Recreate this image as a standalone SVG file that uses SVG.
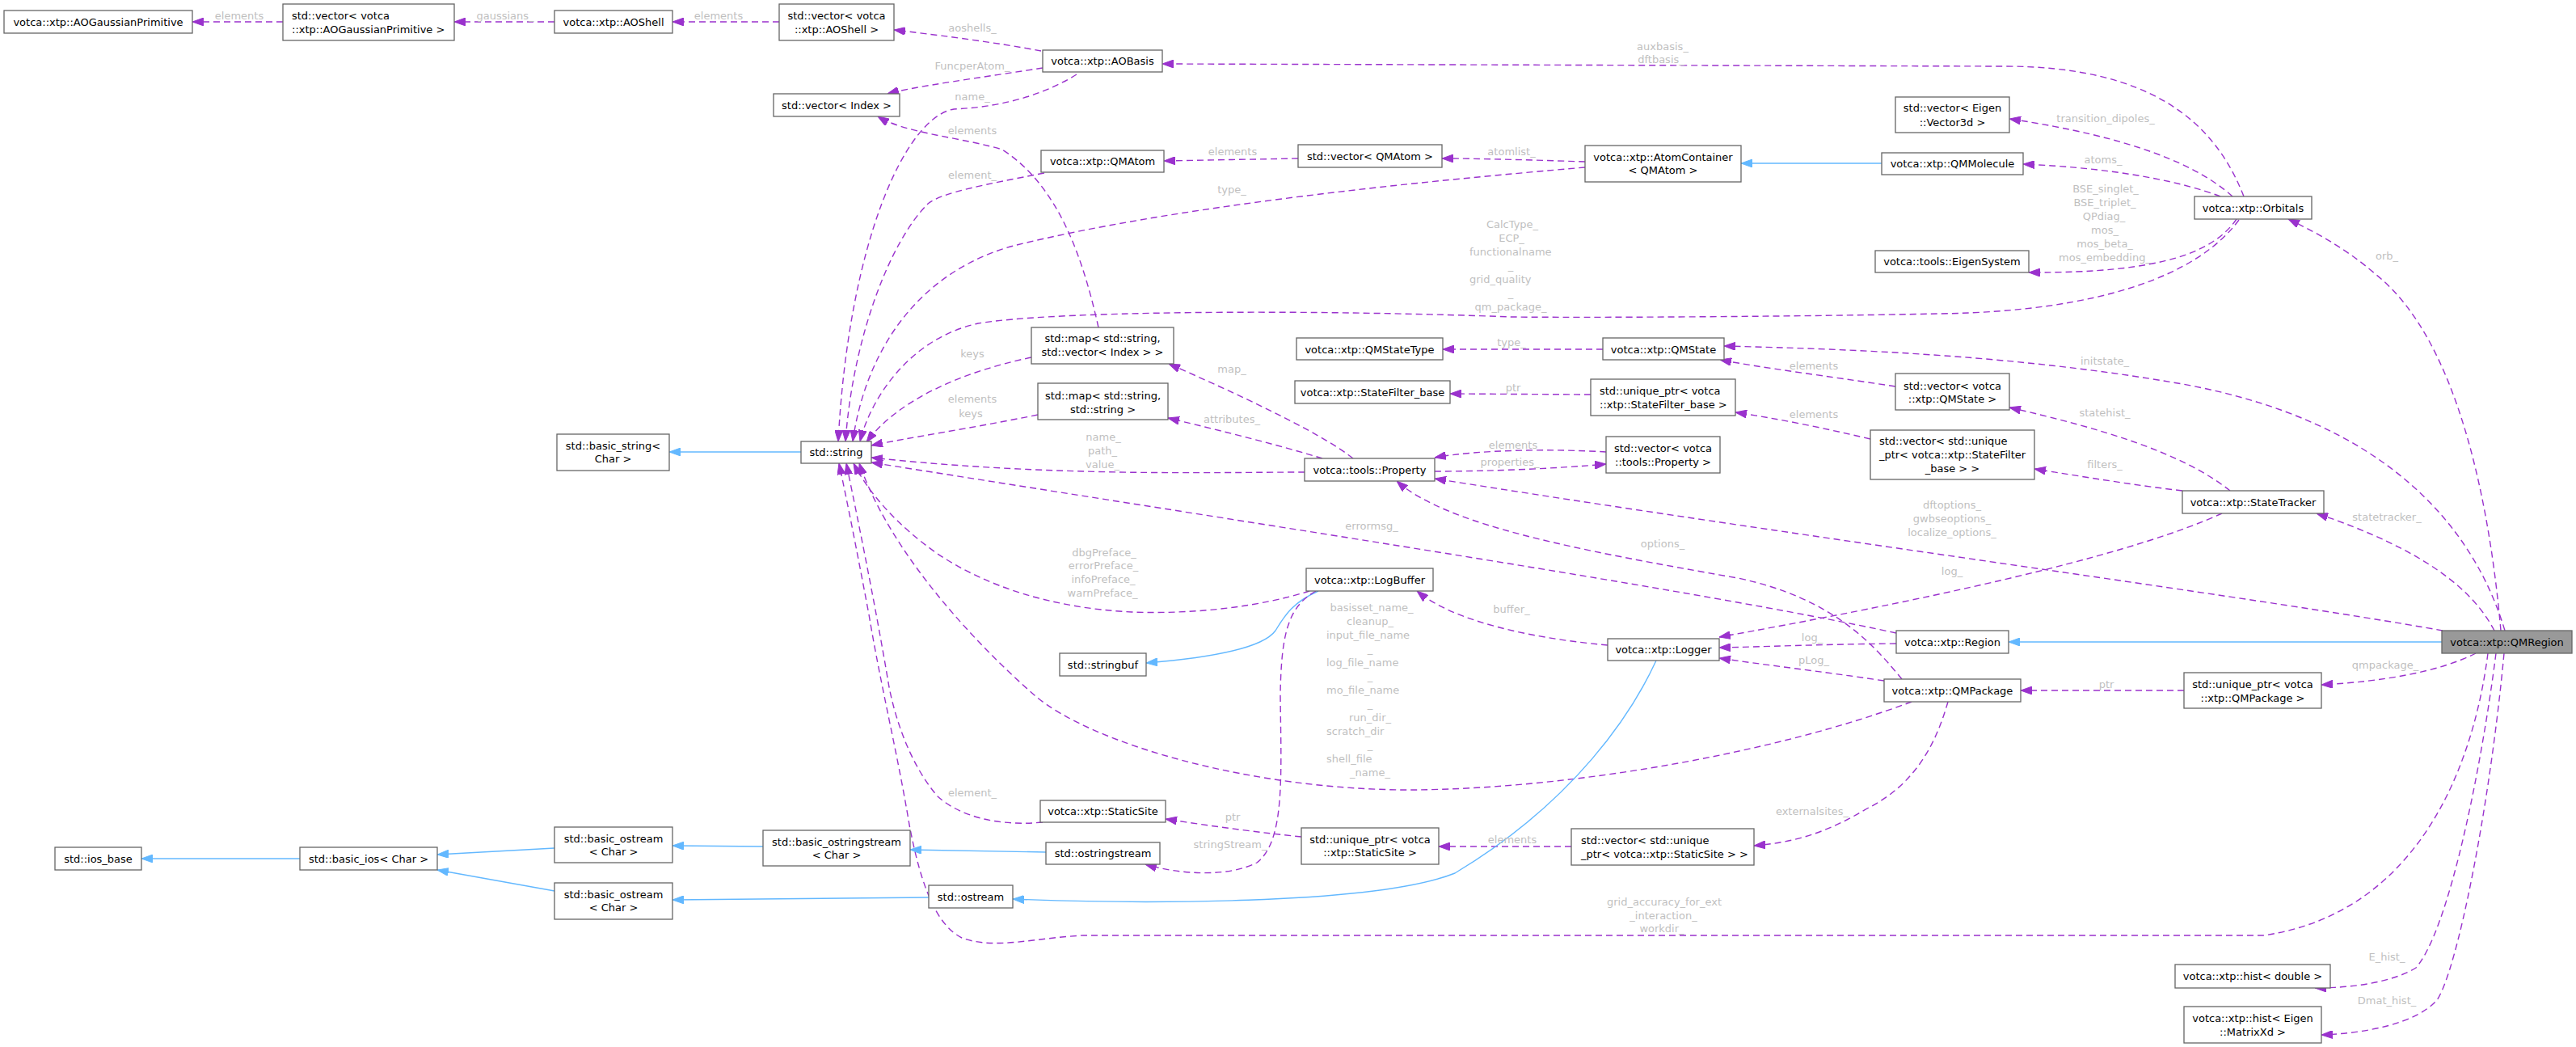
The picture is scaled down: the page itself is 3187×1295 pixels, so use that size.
<svg xmlns="http://www.w3.org/2000/svg" width="3187" height="1295" viewBox="0 0 3187 1295">
<style>
.n rect{fill:#fff;stroke:#666;stroke-width:1.3}
.n text{font-family:"DejaVu Sans",sans-serif;font-size:13px;fill:#000;text-anchor:middle}
.n text.s{text-anchor:start}
#n_qmregion rect{fill:#999}
.e{fill:none;stroke:#9a32cd;stroke-width:1.4;stroke-dasharray:8,5;marker-end:url(#ap)}
.i{fill:none;stroke:#63b8ff;stroke-width:1.4;marker-end:url(#ab)}
.l{font-family:"DejaVu Sans",sans-serif;font-size:13px;fill:#bfbfbf;text-anchor:middle}
.l.s{text-anchor:start}
</style>
<defs>
<marker id="ap" viewBox="0 0 14 10" refX="14" refY="5" markerWidth="14" markerHeight="10" markerUnits="userSpaceOnUse" orient="auto"><path d="M0,0 L14,5 L0,10 z" fill="#9a32cd" stroke="#9a32cd"/></marker>
<marker id="ab" viewBox="0 0 14 10" refX="14" refY="5" markerWidth="14" markerHeight="10" markerUnits="userSpaceOnUse" orient="auto"><path d="M0,0 L14,5 L0,10 z" fill="#63b8ff" stroke="#63b8ff"/></marker>
</defs>
<rect width="3187" height="1295" fill="#fff"/>
<g id="edges">
<path class="e" d="M350,27 L238,27"/>
<path class="e" d="M686,27 L562,27"/>
<path class="e" d="M964,27 L832,27"/>
<path class="e" d="M1288,63 C1230,52 1150,42 1106,37"/>
<path class="e" d="M1290,84 C1220,95 1130,107 1098,116"/>
<path class="e" d="M1332,92 C1300,112 1250,132 1180,135 C1120,145 1050,300 1037,546"/>
<path class="e" d="M1359,405 C1340,320 1310,230 1240,185 C1190,170 1120,165 1086,144"/>
<path class="e" d="M1606,196 L1440,199"/>
<path class="e" d="M1292,214 C1220,228 1165,238 1148,252 C1100,300 1055,420 1046,546"/>
<path class="e" d="M1961,207 C1750,225 1450,255 1250,305 C1130,340 1070,440 1055,546"/>
<path class="e" d="M2770,272 C2720,340 2600,385 2400,388 C2200,392 1950,393 1870,392 C1600,382 1300,385 1210,400 C1120,420 1075,500 1064,546"/>
<path class="e" d="M1276,442 C1190,460 1110,495 1072,547"/>
<path class="e" d="M1284,513 C1200,530 1120,542 1078,551"/>
<path class="e" d="M1674,567 C1640,540 1560,500 1446,450"/>
<path class="e" d="M1636,567 C1580,550 1520,535 1445,517"/>
<path class="e" d="M1775,583 C1840,583 1920,580 1987,574"/>
<path class="e" d="M1987,559 C1920,555 1830,556 1775,566"/>
<path class="e" d="M1614,584 C1500,584 1300,590 1078,566"/>
<path class="e" d="M2346,783 C2100,730 1600,655 1078,572"/>
<path class="e" d="M1620,731 C1560,750 1480,760 1400,757 C1300,752 1220,725 1160,685 C1110,650 1075,610 1056,573"/>
<path class="e" d="M2365,868 C2200,930 1950,975 1750,977 C1550,978 1350,920 1280,860 C1200,790 1100,680 1063,573"/>
<path class="e" d="M1290,1017 C1240,1022 1190,1012 1160,985 C1130,950 1110,900 1100,850 C1085,760 1065,660 1047,573"/>
<path class="e" d="M3078,808 C3060,950 2990,1130 2800,1157 L1340,1157 C1280,1160 1230,1175 1190,1160 C1160,1145 1140,1100 1125,1020 C1110,930 1090,850 1075,760 C1060,680 1048,620 1038,573"/>
<path class="i" d="M1631,731 C1600,745 1590,760 1578,780 C1560,805 1480,815 1418,820"/>
<path class="e" d="M1989,798 C1900,790 1800,770 1753,731"/>
<path class="e" d="M1628,731 C1595,750 1585,780 1584,860 C1585,960 1590,1040 1555,1067 C1520,1085 1460,1082 1417,1069"/>
<path class="e" d="M1610,1035 C1560,1030 1500,1022 1442,1013"/>
<path class="e" d="M1944,1047 L1780,1047"/>
<path class="e" d="M2410,868 C2395,920 2370,970 2310,1000 C2260,1030 2220,1042 2170,1046"/>
<path class="e" d="M2353,840 C2320,800 2270,740 2150,715 C1950,680 1790,650 1728,595"/>
<path class="e" d="M3022,780 C2800,740 2200,660 1775,592"/>
<path class="e" d="M2749,635 C2650,680 2450,730 2127,788"/>
<path class="e" d="M2346,796 C2250,797 2180,800 2127,801"/>
<path class="e" d="M2331,842 C2250,830 2180,822 2127,814"/>
<path class="i" d="M2049,817 C2020,880 1950,990 1800,1080 C1700,1120 1400,1118 1253,1112"/>
<path class="i" d="M1149,1110 L832,1113"/>
<path class="i" d="M944,1047 L832,1046"/>
<path class="i" d="M1294,1054 L1126,1051"/>
<path class="i" d="M686,1049 L541,1057"/>
<path class="i" d="M686,1102 L541,1076"/>
<path class="i" d="M371,1062 L175,1062"/>
<path class="i" d="M991,559 L828,559"/>
<path class="e" d="M1968,488 L1794,487"/>
<path class="e" d="M1983,432 L1785,432"/>
<path class="e" d="M2345,478 C2260,465 2180,455 2128,445"/>
<path class="e" d="M2314,543 C2250,528 2200,518 2147,510"/>
<path class="e" d="M2759,607 C2700,560 2600,530 2486,504"/>
<path class="e" d="M2700,607 C2640,600 2580,590 2517,580"/>
<path class="e" d="M3086,780 C3060,730 3000,680 2866,635"/>
<path class="e" d="M3099,780 C3060,650 2950,520 2700,475 C2500,440 2300,432 2133,428"/>
<path class="e" d="M3094,780 C3080,620 3040,420 2940,340 C2900,305 2860,285 2831,271"/>
<path class="e" d="M3063,808 C3020,830 2950,843 2872,847"/>
<path class="e" d="M2702,854 L2500,854"/>
<path class="i" d="M3021,794 L2485,794"/>
<path class="e" d="M3088,808 C3070,950 3030,1150 2989,1197 C2960,1215 2910,1222 2864,1222"/>
<path class="e" d="M3098,808 C3080,1000 3040,1200 3015,1237 C2990,1265 2930,1278 2872,1280"/>
<path class="i" d="M2328,202 L2154,202"/>
<path class="e" d="M1961,200 C1900,198 1830,196 1784,196"/>
<path class="e" d="M2747,243 C2700,225 2620,208 2503,203"/>
<path class="e" d="M2762,243 C2720,205 2640,170 2486,147"/>
<path class="e" d="M2767,271 C2740,310 2680,338 2510,337"/>
<path class="e" d="M2776,243 C2740,150 2660,82 2480,82 L1438,79"/>
</g>
<g id="labels">
<text class="l" x="296" y="23.5">elements</text>
<text class="l" x="625" y="23.5">gaussians_</text>
<text class="l" x="889" y="23.5">elements</text>
<text class="l" x="1203" y="38.5">aoshells_</text>
<text class="l" x="1203" y="85.5">FuncperAtom_</text>
<text class="l" x="1203" y="123.5">name_</text>
<text class="l" x="1203" y="165.5">elements</text>
<text class="l" x="1525" y="191.5">elements</text>
<text class="l" x="1203" y="220.5">element_</text>
<text class="l" x="1524" y="238.5">type_</text>
<text class="l" x="2057" y="61.5">auxbasis_</text>
<text class="l" x="2055" y="77.5">dftbasis_</text>
<text class="l" x="1870" y="191.5">atomlist_</text>
<text class="l" x="2605" y="150.5">transition_dipoles_</text>
<text class="l" x="2602" y="201.5">atoms_</text>
<text class="l" x="2605" y="237.5">BSE_singlet_</text>
<text class="l" x="2604" y="254.5">BSE_triplet_</text>
<text class="l" x="2603" y="271.5">QPdiag_</text>
<text class="l" x="2604" y="288.5">mos_</text>
<text class="l" x="2604" y="305.5">mos_beta_</text>
<text class="l" x="2604" y="322.5">mos_embedding_</text>
<text class="l" x="1871" y="281.5">CalcType_</text>
<text class="l" x="1870" y="298.5">ECP_</text>
<text class="l s" x="1818" y="315.5">functionalname</text>
<text class="l" x="1869" y="332.5">_</text>
<text class="l s" x="1818" y="349.5">grid_quality</text>
<text class="l" x="1869" y="366.5">_</text>
<text class="l" x="1869" y="383.5">qm_package_</text>
<text class="l" x="2953" y="320.5">orb_</text>
<text class="l" x="1203" y="441.5">keys</text>
<text class="l" x="1203" y="497.5">elements</text>
<text class="l" x="1201" y="515.5">keys</text>
<text class="l" x="1524" y="460.5">map_</text>
<text class="l" x="1524" y="522.5">attributes_</text>
<text class="l" x="1365" y="544.5">name_</text>
<text class="l" x="1364" y="561.5">path_</text>
<text class="l" x="1364" y="578.5">value_</text>
<text class="l" x="1870" y="427.5">type_</text>
<text class="l" x="2604" y="450.5">initstate_</text>
<text class="l" x="2244" y="456.5">elements</text>
<text class="l" x="1872" y="483.5">ptr</text>
<text class="l" x="2244" y="516.5">elements</text>
<text class="l" x="2604" y="514.5">statehist_</text>
<text class="l" x="2604" y="578.5">filters_</text>
<text class="l" x="1872" y="554.5">elements</text>
<text class="l" x="1868" y="575.5">properties_</text>
<text class="l" x="2415" y="628.5">dftoptions_</text>
<text class="l" x="2415" y="645.5">gwbseoptions_</text>
<text class="l" x="2415" y="662.5">localize_options_</text>
<text class="l" x="2953" y="643.5">statetracker_</text>
<text class="l" x="1697" y="654.5">errormsg_</text>
<text class="l" x="2057" y="676.5">options_</text>
<text class="l" x="1366" y="687.5">dbgPreface_</text>
<text class="l" x="1365" y="704">errorPreface_</text>
<text class="l" x="1365" y="720.5">infoPreface_</text>
<text class="l" x="1364" y="737.5">warnPreface_</text>
<text class="l" x="2415" y="710.5">log_</text>
<text class="l" x="1697" y="755.5">basisset_name_</text>
<text class="l" x="1695" y="772.5">cleanup_</text>
<text class="l s" x="1641" y="789.5">input_file_name</text>
<text class="l" x="1695" y="806.5">_</text>
<text class="l s" x="1641" y="823.5">log_file_name</text>
<text class="l" x="1695" y="840.5">_</text>
<text class="l s" x="1641" y="857.5">mo_file_name</text>
<text class="l" x="1695" y="874.5">_</text>
<text class="l" x="1695" y="891.5">run_dir_</text>
<text class="l s" x="1641" y="908.5">scratch_dir</text>
<text class="l" x="1695" y="925.5">_</text>
<text class="l s" x="1641" y="942.5">shell_file</text>
<text class="l" x="1695" y="959.5">_name_</text>
<text class="l" x="1870" y="757.5">buffer_</text>
<text class="l" x="2242" y="792.5">log_</text>
<text class="l" x="2244" y="820.5">pLog_</text>
<text class="l" x="2951" y="826.5">qmpackage_</text>
<text class="l" x="2606" y="850.5">ptr</text>
<text class="l" x="1203" y="984.5">element_</text>
<text class="l" x="2242" y="1007.5">externalsites_</text>
<text class="l" x="1525" y="1014.5">ptr</text>
<text class="l" x="1871" y="1042.5">elements</text>
<text class="l" x="1522" y="1048.5">stringStream_</text>
<text class="l" x="2059" y="1119.5">grid_accuracy_for_ext</text>
<text class="l" x="2058" y="1136.5">_interaction_</text>
<text class="l" x="2056" y="1152.5">workdir_</text>
<text class="l" x="2953" y="1187.5">E_hist_</text>
<text class="l" x="2953" y="1241.5">Dmat_hist_</text>
</g>
<g id="n_aogp" class="n"><rect x="5" y="13" width="233" height="28"/><text x="121.5" y="31.5">votca::xtp::AOGaussianPrimitive</text></g>
<g id="n_vec_aogp" class="n"><rect x="350" y="5" width="212" height="45"/><text class="s" x="361" y="23.5">std::vector&lt; votca</text><text class="s" x="361" y="40.5">::xtp::AOGaussianPrimitive &gt;</text></g>
<g id="n_aoshell" class="n"><rect x="686" y="13" width="146" height="28"/><text x="759" y="31.5">votca::xtp::AOShell</text></g>
<g id="n_vec_aoshell" class="n"><rect x="964" y="5" width="142" height="45"/><text x="1035" y="23.5">std::vector&lt; votca</text><text x="1035" y="40.5">::xtp::AOShell &gt;</text></g>
<g id="n_aobasis" class="n"><rect x="1290" y="62" width="148" height="27"/><text x="1364" y="80">votca::xtp::AOBasis</text></g>
<g id="n_vec_index" class="n"><rect x="957" y="116" width="156" height="28"/><text x="1035" y="134.5">std::vector&lt; Index &gt;</text></g>
<g id="n_qmatom" class="n"><rect x="1288" y="186" width="152" height="27"/><text x="1364" y="204">votca::xtp::QMAtom</text></g>
<g id="n_vec_qmatom" class="n"><rect x="1606" y="179" width="178" height="28"/><text x="1695" y="197.5">std::vector&lt; QMAtom &gt;</text></g>
<g id="n_atomcontainer" class="n"><rect x="1961" y="180" width="193" height="45"/><text x="2057.5" y="198.5">votca::xtp::AtomContainer</text><text x="2057.5" y="215">&lt; QMAtom &gt;</text></g>
<g id="n_qmmolecule" class="n"><rect x="2328" y="189" width="175" height="27"/><text x="2415.5" y="207">votca::xtp::QMMolecule</text></g>
<g id="n_vec_vector3d" class="n"><rect x="2345" y="120" width="141" height="44"/><text x="2415.5" y="137.5">std::vector&lt; Eigen</text><text x="2415.5" y="155.5">::Vector3d &gt;</text></g>
<g id="n_orbitals" class="n"><rect x="2715" y="243" width="145" height="28"/><text x="2787.5" y="261.5">votca::xtp::Orbitals</text></g>
<g id="n_eigensystem" class="n"><rect x="2320" y="310" width="190" height="27"/><text x="2415" y="328">votca::tools::EigenSystem</text></g>
<g id="n_map_vec_index" class="n"><rect x="1276" y="405" width="176" height="45"/><text x="1364" y="422.5">std::map&lt; std::string,</text><text x="1364" y="439.5">std::vector&lt; Index &gt; &gt;</text></g>
<g id="n_string" class="n"><rect x="991" y="546" width="87" height="27"/><text x="1034.5" y="564">std::string</text></g>
<g id="n_basic_string" class="n"><rect x="689" y="537" width="139" height="45"/><text x="758.5" y="555.5">std::basic_string&lt;</text><text x="758.5" y="571.5">Char &gt;</text></g>
<g id="n_map_string" class="n"><rect x="1284" y="474" width="161" height="45"/><text x="1364.5" y="493.5">std::map&lt; std::string,</text><text x="1364.5" y="510.5">std::string &gt;</text></g>
<g id="n_qmstatetype" class="n"><rect x="1604" y="418" width="181" height="27"/><text x="1694.5" y="436.5">votca::xtp::QMStateType</text></g>
<g id="n_qmstate" class="n"><rect x="1983" y="418" width="150" height="27"/><text x="2058" y="436.5">votca::xtp::QMState</text></g>
<g id="n_vec_qmstate" class="n"><rect x="2345" y="462" width="141" height="45"/><text x="2415.5" y="481.5">std::vector&lt; votca</text><text x="2415.5" y="497.5">::xtp::QMState &gt;</text></g>
<g id="n_statefilter_base" class="n"><rect x="1602" y="471" width="192" height="28"/><text x="1698" y="489.5">votca::xtp::StateFilter_base</text></g>
<g id="n_uptr_statefilter" class="n"><rect x="1968" y="469" width="179" height="45"/><text class="s" x="1979" y="487.5">std::unique_ptr&lt; votca</text><text class="s" x="1979" y="504.5">::xtp::StateFilter_base &gt;</text></g>
<g id="n_vec_uptr_statefilter" class="n"><rect x="2314" y="532" width="203" height="61"/><text class="s" x="2325" y="549.5">std::vector&lt; std::unique</text><text x="2415.5" y="566.5">_ptr&lt; votca::xtp::StateFilter</text><text x="2415.5" y="583.5">_base &gt; &gt;</text></g>
<g id="n_vec_property" class="n"><rect x="1987" y="540" width="141" height="45"/><text x="2057.5" y="558.5">std::vector&lt; votca</text><text x="2057.5" y="575.5">::tools::Property &gt;</text></g>
<g id="n_property" class="n"><rect x="1614" y="567" width="161" height="28"/><text x="1694.5" y="585.5">votca::tools::Property</text></g>
<g id="n_statetracker" class="n"><rect x="2700" y="607" width="175" height="28"/><text x="2787.5" y="625.5">votca::xtp::StateTracker</text></g>
<g id="n_logbuffer" class="n"><rect x="1616" y="703" width="157" height="28"/><text x="1694.5" y="721.5">votca::xtp::LogBuffer</text></g>
<g id="n_stringbuf" class="n"><rect x="1311" y="808" width="107" height="28"/><text x="1364.5" y="826.5">std::stringbuf</text></g>
<g id="n_logger" class="n"><rect x="1989" y="790" width="138" height="27"/><text x="2058" y="808">votca::xtp::Logger</text></g>
<g id="n_region" class="n"><rect x="2346" y="780" width="139" height="28"/><text x="2415.5" y="798.5">votca::xtp::Region</text></g>
<g id="n_qmregion" class="n"><rect x="3021" y="780" width="161" height="28"/><text x="3101.5" y="798.5">votca::xtp::QMRegion</text></g>
<g id="n_qmpackage" class="n"><rect x="2331" y="840" width="169" height="28"/><text x="2415.5" y="858.5">votca::xtp::QMPackage</text></g>
<g id="n_uptr_qmpackage" class="n"><rect x="2702" y="832" width="170" height="44"/><text x="2787" y="850.5">std::unique_ptr&lt; votca</text><text x="2787" y="867.5">::xtp::QMPackage &gt;</text></g>
<g id="n_staticsite" class="n"><rect x="1287" y="990" width="155" height="27"/><text x="1364.5" y="1008">votca::xtp::StaticSite</text></g>
<g id="n_uptr_staticsite" class="n"><rect x="1610" y="1024" width="170" height="45"/><text x="1695" y="1042.5">std::unique_ptr&lt; votca</text><text x="1695" y="1058.5">::xtp::StaticSite &gt;</text></g>
<g id="n_vec_uptr_staticsite" class="n"><rect x="1944" y="1025" width="226" height="45"/><text class="s" x="1956" y="1043.5">std::vector&lt; std::unique</text><text class="s" x="1956" y="1060.5">_ptr&lt; votca::xtp::StaticSite &gt; &gt;</text></g>
<g id="n_ostringstream" class="n"><rect x="1294" y="1042" width="141" height="27"/><text x="1364.5" y="1060">std::ostringstream</text></g>
<g id="n_basic_ostringstream" class="n"><rect x="944" y="1027" width="182" height="44"/><text x="1035" y="1045.5">std::basic_ostringstream</text><text x="1035" y="1061.5">&lt; Char &gt;</text></g>
<g id="n_ostream" class="n"><rect x="1149" y="1095" width="104" height="28"/><text x="1201" y="1113.5">std::ostream</text></g>
<g id="n_basic_ostream1" class="n"><rect x="686" y="1023" width="146" height="44"/><text x="759" y="1041.5">std::basic_ostream</text><text x="759" y="1057.5">&lt; Char &gt;</text></g>
<g id="n_basic_ostream2" class="n"><rect x="686" y="1092" width="146" height="45"/><text x="759" y="1110.5">std::basic_ostream</text><text x="759" y="1126.5">&lt; Char &gt;</text></g>
<g id="n_basic_ios" class="n"><rect x="371" y="1048" width="170" height="28"/><text x="456" y="1066.5">std::basic_ios&lt; Char &gt;</text></g>
<g id="n_ios_base" class="n"><rect x="68" y="1048" width="107" height="28"/><text x="121.5" y="1066.5">std::ios_base</text></g>
<g id="n_hist_double" class="n"><rect x="2691" y="1193" width="192" height="29"/><text x="2787" y="1212">votca::xtp::hist&lt; double &gt;</text></g>
<g id="n_hist_matrix" class="n"><rect x="2702" y="1245" width="170" height="45"/><text x="2787" y="1263.5">votca::xtp::hist&lt; Eigen</text><text x="2787" y="1280.5">::MatrixXd &gt;</text></g>
</svg>
